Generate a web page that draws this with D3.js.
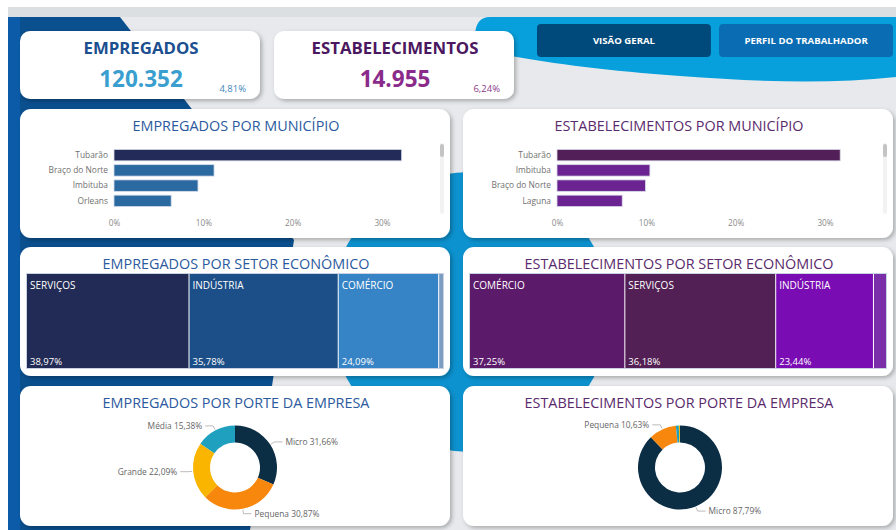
<!DOCTYPE html>
<html>
<head>
<meta charset="utf-8">
<script src="https://cdn.jsdelivr.net/npm/d3@7"></script>
<style>
  body { margin: 0; background: #fff; }
  svg text { font-family: "Open Sans", "Noto Sans", sans-serif; }
</style>
</head>
<body>
<svg id="painel" width="896" height="530"></svg>
<script>
var kpiTitulos = ["EMPREGADOS", "ESTABELECIMENTOS"];
var kpiValores = [120352, 14955];
var kpiVariacao = [4.81, 6.24];

var botoes = ["VISÃO GERAL", "PERFIL DO TRABALHADOR"];

var empMunicipios = ["Tubarão", "Braço do Norte", "Imbituba", "Orleans"];
var empMunicipioPct = [32.2, 11.2, 9.4, 6.4];
var estMunicipios = ["Tubarão", "Imbituba", "Braço do Norte", "Laguna"];
var estMunicipioPct = [31.7, 10.4, 9.9, 7.3];
var pctTicks = [0, 10, 20, 30];

var empSetores = ["SERVIÇOS", "INDÚSTRIA", "COMÉRCIO", "OUTROS"];
var empSetorPct = [38.97, 35.78, 24.09, 1.16];
var estSetores = ["COMÉRCIO", "SERVIÇOS", "INDÚSTRIA", "OUTROS"];
var estSetorPct = [37.25, 36.18, 23.44, 3.13];

var empPortes = ["Micro", "Pequena", "Grande", "Média"];
var empPortePct = [31.66, 30.87, 22.09, 15.38];
var estPortes = ["Micro", "Pequena", "Média", "Grande"];
var estPortePct = [87.79, 10.63, 1.13, 0.45];

var br = d3.formatLocale({decimal: ",", thousands: ".", grouping: [3], currency: ["R$", ""]});
var fmtInt = br.format(",d");
var fmtPct = function(v) { return br.format(".2f")(v) + "%"; };

var svg = d3.select("#painel");

var defs = svg.append("defs");
defs.append("filter").attr("id", "sombra")
    .attr("x", "-5%").attr("y", "-10%").attr("width", "115%").attr("height", "130%")
  .append("feDropShadow")
    .attr("dx", 2).attr("dy", 2).attr("stdDeviation", 2)
    .attr("flood-color", "#000").attr("flood-opacity", 0.28);

// fundo
svg.append("rect").attr("x", 8).attr("y", 7).attr("width", 888).attr("height", 523).attr("fill", "#e7e9ec");
svg.append("rect").attr("x", 8).attr("y", 7).attr("width", 888).attr("height", 10).attr("fill", "#dcdfe2");

svg.append("circle").attr("cx", 470).attr("cy", 312).attr("r", 140).attr("fill", "#0c92cf");

svg.append("path")
  .attr("d", "M8,17 L120,17 L294,240 L272,386 L250,530 L8,530 Z")
  .attr("fill", "#0a4f8e");
svg.append("rect").attr("x", 8).attr("y", 17).attr("width", 12).attr("height", 513).attr("fill", "#0b5ba8");

svg.append("path")
  .attr("d", "M490,17 L896,17 L896,77 C830,84 760,82 680,76 C600,70 540,62 490,52 C478,50 475,45 475,36 C475,24 480,17 490,17 Z")
  .attr("fill", "#08a0dc");

// botões
var btnX = d3.scaleBand().domain(botoes).range([537, 893]).paddingInner(0.045);
var btn = svg.selectAll(".botao").data(botoes).enter().append("g").attr("class", "botao");
btn.append("rect")
  .attr("x", function(d) { return btnX(d); })
  .attr("y", 24).attr("width", btnX.bandwidth()).attr("height", 33).attr("rx", 4)
  .attr("fill", function(d, i) { return i === 0 ? "#004a7b" : "#0a6cb2"; });
btn.append("text")
  .attr("x", function(d) { return btnX(d) + btnX.bandwidth() / 2; })
  .attr("y", 44).attr("text-anchor", "middle")
  .attr("fill", "#fff").attr("font-size", 9.6).attr("font-weight", 700)
  .text(function(d) { return d; });

// cartões KPI
var kpiX = [20, 274];
var kpiCor = [["#1c4f8f", "#3a9fcf", "#3f86b8"], ["#4a1760", "#8a2a8a", "#8a3a8a"]];
kpiTitulos.forEach(function(t, i) {
  var g = svg.append("g").attr("transform", "translate(" + kpiX[i] + ",31)");
  g.append("rect").attr("width", 240).attr("height", 68).attr("rx", 10)
    .attr("fill", "#fff").attr("filter", "url(#sombra)");
  g.append("text").attr("x", 121).attr("y", 23).attr("text-anchor", "middle")
    .attr("font-size", 16.8).attr("font-weight", 700).attr("fill", kpiCor[i][0]).text(t);
  g.append("text").attr("x", 121).attr("y", 56).attr("text-anchor", "middle")
    .attr("font-size", 22.5).attr("font-weight", 700).attr("fill", kpiCor[i][1]).text(fmtInt(kpiValores[i]));
  g.append("text").attr("x", 226).attr("y", 61).attr("text-anchor", "end")
    .attr("font-size", 9.5).attr("fill", kpiCor[i][2]).text(br.format(".2f")(kpiVariacao[i]) + "%");
});

function painel(x, y, titulo, cor) {
  var g = svg.append("g");
  g.append("rect").attr("x", x).attr("y", y).attr("width", 430).attr("height", y > 380 ? 140 : 129)
    .attr("rx", 11).attr("fill", "#fff").attr("filter", "url(#sombra)");
  g.append("text").attr("x", x + 216).attr("y", y + 22).attr("text-anchor", "middle")
    .attr("font-size", 14.4).attr("fill", cor).text(titulo);
  return g;
}

// barras por município
function barras(x0, nomes, valores, cores, titulo, corTitulo) {
  var g = painel(x0, 109, titulo, corTitulo);
  var x = d3.scaleLinear().domain([0, 30]).range([x0 + 94, x0 + 362]);
  var y = d3.scaleBand().domain(nomes).range([147.5, 208.5]).paddingInner(0.25).paddingOuter(0.125);

  g.selectAll(".barra").data(nomes).enter().append("rect")
    .attr("x", x(0))
    .attr("y", function(d) { return y(d); })
    .attr("width", function(d, i) { return x(valores[i]) - x(0); })
    .attr("height", y.bandwidth())
    .attr("fill", function(d, i) { return i === 0 ? cores[0] : cores[1]; })
    .attr("stroke", "#d6dbe8").attr("stroke-width", 0.8);

  var eixoY = g.append("g").attr("transform", "translate(" + (x(0) - 2) + ",0)")
    .call(d3.axisLeft(y).tickSize(0).tickPadding(4));
  eixoY.select(".domain").remove();
  eixoY.selectAll("text").attr("font-size", 8.4).attr("fill", "#707070").attr("font-family", null);

  var eixoX = g.append("g").attr("transform", "translate(0,215)")
    .call(d3.axisBottom(x).tickValues(pctTicks).tickSize(0).tickPadding(5).tickFormat(function(d) { return d + "%"; }));
  eixoX.select(".domain").remove();
  eixoX.selectAll("text").attr("font-size", 8.2).attr("fill", "#8a8a8a").attr("font-family", null);

  g.append("rect").attr("x", x0 + 420).attr("y", 143).attr("width", 4).attr("height", 71).attr("rx", 2).attr("fill", "#f2f2f2");
  g.append("rect").attr("x", x0 + 420).attr("y", 144).attr("width", 4).attr("height", 13).attr("rx", 2).attr("fill", "#c4c4c4");
}

barras(20, empMunicipios, empMunicipioPct, ["#232b58", "#2a6aa1"], "EMPREGADOS POR MUNICÍPIO", "#2b5a9e");
barras(463, estMunicipios, estMunicipioPct, ["#531f58", "#6a2391"], "ESTABELECIMENTOS POR MUNICÍPIO", "#5a2a6c");

// treemap por setor
function arvore(x0, nomes, valores, cores, titulo, corTitulo) {
  var g = painel(x0, 247, titulo, corTitulo);
  var raiz = d3.hierarchy({children: nomes.map(function(n, i) { return {nome: n, valor: valores[i], cor: cores[i]}; })})
    .sum(function(d) { return d.valor || 0; });
  d3.treemap().tile(d3.treemapDice).size([416, 94]).paddingInner(1)(raiz);

  var cel = g.selectAll(".cel").data(raiz.leaves()).enter().append("g")
    .attr("transform", function(d) { return "translate(" + (x0 + 7 + d.x0) + "," + (274 + d.y0) + ")"; });
  cel.append("rect")
    .attr("width", function(d) { return d.x1 - d.x0; })
    .attr("height", function(d) { return d.y1 - d.y0; })
    .attr("fill", function(d) { return d.data.cor; });
  cel.filter(function(d) { return d.data.valor > 5; }).append("text")
    .attr("x", 3).attr("y", 15).attr("font-size", 10).attr("fill", "#fff")
    .text(function(d) { return d.data.nome; });
  cel.filter(function(d) { return d.data.valor > 5; }).append("text")
    .attr("x", 3).attr("y", 91).attr("font-size", 9.5).attr("fill", "#fff")
    .text(function(d) { return fmtPct(d.data.valor); });
  g.append("rect").attr("x", x0 + 6.5).attr("y", 273.5).attr("width", 417).attr("height", 95)
    .attr("fill", "none").attr("stroke", "#c9d2e3").attr("stroke-width", 1);
}

arvore(20, empSetores, empSetorPct, ["#222b55", "#1c4f88", "#3683c6", "#7d9cc2"], "EMPREGADOS POR SETOR ECONÔMICO", "#2b5a9e");
arvore(463, estSetores, estSetorPct, ["#5c1a6b", "#522054", "#790db3", "#7a2fa8"], "ESTABELECIMENTOS POR SETOR ECONÔMICO", "#5a2a6c");

// rosca por porte
var corPorte = {"Micro": "#0b2e45", "Pequena": "#f7870d", "Grande": "#f9b500", "Média": "#1fa0be"};
function rosca(x0, cx, nomes, valores, titulo, corTitulo) {
  var g = painel(x0, 386, titulo, corTitulo);
  var cy = 467.5;
  var dados = nomes.map(function(n, i) { return {nome: n, valor: valores[i]}; });
  var pie = d3.pie().sort(null).value(function(d) { return d.valor; });
  var arc = d3.arc().innerRadius(25).outerRadius(42);
  var fatias = pie(dados);
  var gc = g.append("g").attr("transform", "translate(" + cx + "," + cy + ")");
  gc.selectAll("path").data(fatias).enter().append("path")
    .attr("d", arc).attr("fill", function(d) { return corPorte[d.data.nome]; });

  var rot = gc.selectAll(".rot").data(fatias.filter(function(d) { return d.data.valor > 5; })).enter().append("g");
  rot.append("polyline")
    .attr("points", function(d) {
      var a = (d.startAngle + d.endAngle) / 2;
      var s = Math.sin(a) >= 0 ? 1 : -1;
      var p1 = [43 * Math.sin(a), -43 * Math.cos(a)];
      var p2 = [47 * Math.sin(a), -47 * Math.cos(a)];
      var p3 = [p2[0] + s * 8, p2[1]];
      return [p1, p2, p3].join(" ");
    })
    .attr("fill", "none").attr("stroke", "#aaa").attr("stroke-width", 0.8);
  rot.append("text")
    .attr("x", function(d) {
      var a = (d.startAngle + d.endAngle) / 2;
      var s = Math.sin(a) >= 0 ? 1 : -1;
      return 47 * Math.sin(a) + s * 11;
    })
    .attr("y", function(d) { var a = (d.startAngle + d.endAngle) / 2; return -47 * Math.cos(a) + 3; })
    .attr("text-anchor", function(d) { return Math.sin((d.startAngle + d.endAngle) / 2) >= 0 ? "start" : "end"; })
    .attr("font-size", 8.4).attr("fill", "#666")
    .text(function(d) { return d.data.nome + " " + fmtPct(d.data.valor); });
}

rosca(20, 235, empPortes, empPortePct, "EMPREGADOS POR PORTE DA EMPRESA", "#2b5a9e");
rosca(463, 680, estPortes, estPortePct, "ESTABELECIMENTOS POR PORTE DA EMPRESA", "#5a2a6c");
</script>
</body>
</html>
